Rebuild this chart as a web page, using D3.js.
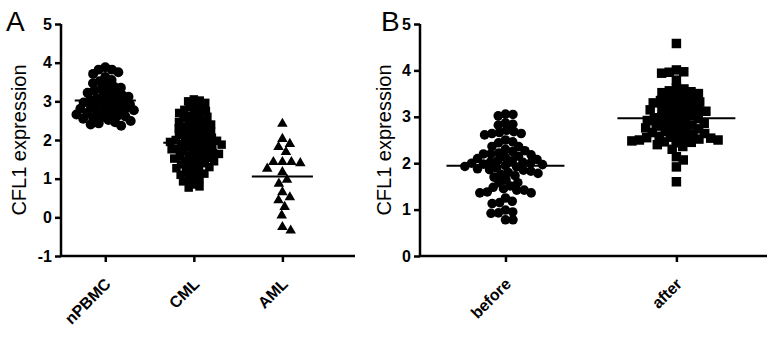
<!DOCTYPE html>
<html>
<head>
<meta charset="utf-8">
<script src="https://cdn.jsdelivr.net/npm/d3@7"></script>
<style>
body { margin: 0; background: #fff; }
svg { font-family: "Liberation Sans", Arial, sans-serif; }
.axis line, .axisline { stroke: #000; stroke-width: 2.5; }
.axis text { font-weight: bold; font-size: 16px; fill: #000; }
.ytitle { font-size: 20px; fill: #000; }
.letter { font-size: 28px; fill: #000; }
.mean { stroke: #000; stroke-width: 2; }
</style>
</head>
<body>
<svg id="chart" width="775" height="337"></svg>
<script>
// panel A
var groupsA = ["nPBMC", "CML", "AML"];
var nPBMC = [3.88, 3.82, 3.82, 3.75, 3.71, 3.63, 3.55, 3.52, 3.47, 3.44, 3.38, 3.35, 3.31, 3.28, 3.27,
    3.22, 3.2, 3.17, 3.14, 3.12, 3.08, 3.06, 3.04, 3.01, 2.99, 2.97, 2.94, 2.92, 2.9, 2.87, 2.85,
    2.83, 2.81, 2.79, 2.77, 2.75, 2.72, 2.7, 2.68, 2.66, 2.64, 2.61, 2.59, 2.57, 2.55, 2.52, 2.49,
    2.46, 2.43, 2.4, 2.37];
var CML = [3.05, 3.02, 3.0, 2.96, 2.9, 2.85, 2.83, 2.78, 2.75, 2.72, 2.7, 2.66, 2.62, 2.6, 2.57,
    2.53, 2.5, 2.47, 2.45, 2.42, 2.4, 2.37, 2.35, 2.32, 2.3, 2.27, 2.25, 2.22, 2.2, 2.18, 2.15,
    2.13, 2.1, 2.08, 2.06, 2.04, 2.02, 2.0, 1.98, 1.96, 1.95, 1.93, 1.91, 1.9, 1.88, 1.86, 1.84,
    1.82, 1.8, 1.78, 1.76, 1.74, 1.72, 1.7, 1.68, 1.66, 1.64, 1.62, 1.6, 1.58, 1.56, 1.54, 1.52,
    1.5, 1.47, 1.45, 1.42, 1.4, 1.37, 1.35, 1.32, 1.3, 1.27, 1.24, 1.2, 1.17, 1.13, 1.1, 1.05,
    1.0, 0.96, 0.93, 0.85, 0.8, 0.77];
var AML = [2.42, 2.03, 1.9, 1.82, 1.69, 1.43, 1.4, 1.43, 1.43, 1.26, 1.17, 0.97, 0.87, 0.52,
    0.65, 0.44, 0.27, 0.05, -0.34, -0.25];

// panel B
var groupsB = ["before", "after"];
var before = [3.06, 3.05, 3.02, 2.87, 2.84, 2.82, 2.71, 2.68, 2.66, 2.64, 2.64, 2.61, 2.5, 2.46,
    2.44, 2.36, 2.36, 2.3, 2.27, 2.25, 2.22, 2.2, 2.2, 2.18, 2.15, 2.12, 2.1, 2.08, 2.06, 2.05,
    2.03, 2.02, 2.0, 2.0, 1.98, 1.97, 1.95, 1.93, 1.92, 1.9, 1.88, 1.86, 1.85, 1.83, 1.8, 1.78,
    1.76, 1.73, 1.7, 1.64, 1.58, 1.58, 1.51, 1.48, 1.45, 1.42, 1.42, 1.38, 1.36, 1.36, 1.25,
    1.18, 1.15, 1.13, 0.99, 0.95, 0.93, 0.92, 0.78, 0.78];
var after = [4.58, 4.01, 3.97, 3.96, 3.94, 3.79, 3.62, 3.6, 3.56, 3.54, 3.52, 3.5, 3.44, 3.43,
    3.4, 3.38, 3.35, 3.32, 3.3, 3.27, 3.25, 3.22, 3.2, 3.17, 3.15, 3.15, 3.12, 3.1, 3.07, 3.05,
    3.02, 3.0, 2.98, 2.96, 2.94, 2.92, 2.9, 2.88, 2.86, 2.84, 2.82, 2.8, 2.78, 2.76, 2.74, 2.72,
    2.7, 2.68, 2.66, 2.64, 2.62, 2.6, 2.58, 2.56, 2.55, 2.54, 2.53, 2.52, 2.5, 2.5, 2.48, 2.46,
    2.45, 2.44, 2.4, 2.36, 2.3, 2.14, 2.07, 1.92, 1.6];

var svg = d3.select("#chart");

// greedy beeswarm: each point goes as close to the column centre as it can
function swarm(values, y, diam) {
    var placed = [];
    values.slice().sort(d3.descending).forEach(function(v) {
        var py = y(v), cands = [0];
        placed.forEach(function(p) {
            var dy = Math.abs(p.y - py);
            if (dy < diam) {
                var dx = Math.sqrt(diam * diam - dy * dy);
                cands.push(p.x + dx, p.x - dx);
            }
        });
        cands.sort(function(a, b) { return Math.abs(a) - Math.abs(b); });
        var px = cands.find(function(c) {
            return placed.every(function(p) {
                return (p.x - c) * (p.x - c) + (p.y - py) * (p.y - py) >= diam * diam - 0.01;
            });
        });
        placed.push({value: v, x: px, y: py});
    });
    return placed;
}

function panel(opts) {
    var g = svg.append("g");
    var x = d3.scaleLinear().domain(opts.xDomain).range(opts.xRange);
    var y = d3.scaleLinear().domain(opts.yDomain).range([256, 24]);
    var colW = x(2) - x(1);

    g.append("g")
        .attr("class", "axis")
        .attr("transform", "translate(" + opts.xRange[0] + ",0)")
        .call(d3.axisLeft(y)
            .ticks(opts.yDomain[1] - opts.yDomain[0])
            .tickFormat(function(v) { return String(v); })
            .tickSize(6).tickSizeOuter(0).tickPadding(3))
        .call(function(a) { a.select(".domain").remove(); });

    var xAxis = g.append("g")
        .attr("class", "axis")
        .attr("transform", "translate(0,256)")
        .call(d3.axisBottom(x)
            .tickValues(d3.range(1, opts.groups.length + 1))
            .tickFormat(function(i) { return opts.groups[i - 1]; })
            .tickSize(6).tickSizeOuter(0))
        .call(function(a) { a.select(".domain").remove(); });

    xAxis.selectAll("text")
        .attr("x", 0).attr("y", 0).attr("dy", 0)
        .attr("transform", "translate(6,29) rotate(-45)")
        .style("text-anchor", "end");

    // axis lines
    g.append("line")
        .attr("class", "axisline")
        .attr("x1", x.range()[0]).attr("x2", x.range()[0])
        .attr("y1", y.range()[0] + 1).attr("y2", y.range()[1]);
    g.append("line")
        .attr("class", "axisline")
        .attr("x1", x.range()[0]).attr("x2", x.range()[1])
        .attr("y1", y.range()[0]).attr("y2", y.range()[0]);

    g.append("text")
        .attr("class", "ytitle")
        .attr("transform", "translate(" + opts.titleX + "," + y(d3.mean(opts.yDomain)) + ") rotate(-90)")
        .attr("text-anchor", "middle")
        .text("CFL1 expression");

    g.append("text")
        .attr("class", "letter")
        .attr("x", opts.letterX)
        .attr("y", 31)
        .text(opts.letter);

    opts.series.forEach(function(values, i) {
        var cx = x(i + 1);
        var sym = d3.symbol().type(opts.shapes[i]).size(opts.sizes[i]);
        g.append("g")
            .selectAll("path")
            .data(swarm(values, y, opts.spacing[i]))
            .join("path")
            .attr("d", sym)
            .attr("transform", function(d) { return "translate(" + (cx + d.x) + "," + d.y + ")"; })
            .attr("fill", "#000");

        var m = y(d3.mean(values));
        g.append("line")
            .attr("class", "mean")
            .attr("x1", cx - colW * 0.345)
            .attr("x2", cx + colW * 0.345)
            .attr("y1", m)
            .attr("y2", m);
    });
}

panel({
    groups: groupsA,
    series: [nPBMC, CML, AML],
    shapes: [d3.symbolCircle, d3.symbolSquare, d3.symbolTriangle],
    sizes: [78, 72, 48],
    spacing: [7, 6, 9],
    xDomain: [0.5, 3.82],
    xRange: [61, 355],
    yDomain: [-1, 5],
    titleX: 26,
    letter: "A",
    letterX: 6
});

panel({
    groups: groupsB,
    series: [before, after],
    shapes: [d3.symbolCircle, d3.symbolSquare],
    sizes: [72, 90],
    spacing: [7.5, 7.6],
    xDomain: [0.5, 2.53],
    xRange: [420, 767],
    yDomain: [0, 5],
    titleX: 391,
    letter: "B",
    letterX: 381
});
</script>
</body>
</html>
